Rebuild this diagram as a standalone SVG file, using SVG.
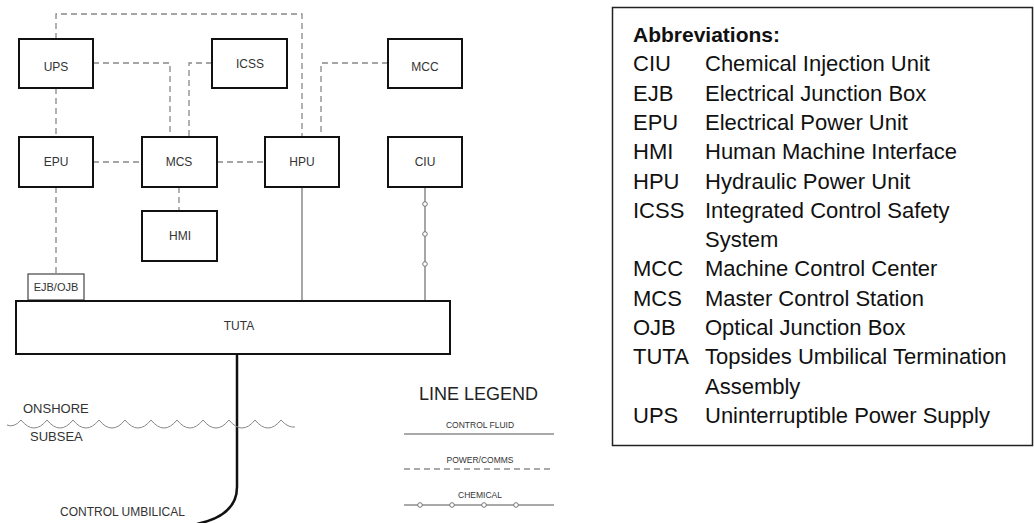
<svg xmlns="http://www.w3.org/2000/svg" width="1034" height="523" viewBox="0 0 1034 523">
<style>
.box{fill:#fff;stroke:#111;stroke-width:2}
.sbox{fill:#fff;stroke:#444;stroke-width:1.2}
.lbl{font-family:"Liberation Sans",Arial,sans-serif;font-size:12px;fill:#333;text-anchor:middle}
.dash{fill:none;stroke:#888;stroke-width:1.3;stroke-dasharray:6 4}
.solid{fill:none;stroke:#777;stroke-width:1.3}
.dot{fill:#fff;stroke:#777;stroke-width:1}
.big{font-family:"Liberation Sans",Arial,sans-serif;font-size:13px;fill:#333}
.leg{font-family:"Liberation Sans",Arial,sans-serif;font-size:8.5px;fill:#333;text-anchor:middle}
.ab{font-family:"Liberation Sans",Arial,sans-serif;font-size:22px;fill:#111}
</style>
<rect width="1034" height="523" fill="#fff"/>
<g id="connectors">
<path class="dash" d="M56,39 V14 H302 V137"/>
<path class="dash" d="M93,63 H170 V137"/>
<path class="dash" d="M212,63 H189 V137"/>
<path class="dash" d="M388,63 H321 V137"/>
<path class="dash" d="M56,88 V137"/>
<path class="dash" d="M93,162 H142"/>
<path class="dash" d="M217,162 H265"/>
<path class="dash" d="M56,187 V274"/>
<path class="dash" d="M179,187 V211"/>
<path class="solid" d="M302,187 V301"/>
<path class="solid" d="M425,187 V301"/>
<circle class="dot" cx="425" cy="204" r="2.3"/>
<circle class="dot" cx="425" cy="234" r="2.3"/>
<circle class="dot" cx="425" cy="264" r="2.3"/>
<path d="M237,354 V487 C237,505 225,518 197,524" fill="none" stroke="#111" stroke-width="2.5"/>
</g>
<g id="UPS"><rect class="box" x="19" y="39" width="74" height="49"/><text class="lbl" x="56" y="71">UPS</text></g>
<g id="ICSS"><rect class="box" x="212" y="39" width="75" height="49"/><text class="lbl" x="250" y="68">ICSS</text></g>
<g id="MCC"><rect class="box" x="388" y="39" width="74" height="49"/><text class="lbl" x="425" y="71">MCC</text></g>
<g id="EPU"><rect class="box" x="19" y="137" width="74" height="50"/><text class="lbl" x="56" y="166">EPU</text></g>
<g id="MCS"><rect class="box" x="142" y="137" width="75" height="50"/><text class="lbl" x="179" y="166">MCS</text></g>
<g id="HPU"><rect class="box" x="265" y="137" width="74" height="50"/><text class="lbl" x="302" y="166">HPU</text></g>
<g id="CIU"><rect class="box" x="388" y="137" width="74" height="50"/><text class="lbl" x="425" y="166">CIU</text></g>
<g id="HMI"><rect class="box" x="142" y="211" width="75" height="50"/><text class="lbl" x="180" y="240">HMI</text></g>
<g id="EJB_OJB"><rect class="sbox" x="28" y="274" width="56" height="26"/><text class="lbl" x="56" y="291" style="font-size:11px">EJB/OJB</text></g>
<g id="TUTA"><rect class="box" x="16" y="301" width="434" height="53"/><text class="lbl" x="239" y="330">TUTA</text></g>
<g id="waterline">
<path d="M7,425 Q14,428 21,420 Q34,436 47,420 Q60,436 73,420 Q86,436 99,420 Q112,436 125,420 Q138,436 151,420 Q164,436 177,420 Q190,436 203,420 Q216,436 229,420 Q242,436 255,420 Q268,436 281,420 Q288,428 295,427" fill="none" stroke="#888" stroke-width="1"/>
<text class="big" x="23" y="413">ONSHORE</text>
<text class="big" x="30" y="441">SUBSEA</text>
<text class="big" x="60" y="516" style="font-size:12px">CONTROL UMBILICAL</text>
</g>
<g id="legend">
<text x="419" y="400" style="font-family:'Liberation Sans',Arial,sans-serif;font-size:18px;fill:#222">LINE LEGEND</text>
<text class="leg" x="480" y="428">CONTROL FLUID</text>
<line x1="404" y1="434" x2="554" y2="434" stroke="#555" stroke-width="1"/>
<text class="leg" x="480" y="463">POWER/COMMS</text>
<line x1="404" y1="469" x2="554" y2="469" stroke="#555" stroke-width="1" stroke-dasharray="6 4"/>
<text class="leg" x="480" y="498">CHEMICAL</text>
<line x1="404" y1="505" x2="554" y2="505" stroke="#555" stroke-width="1"/>
<circle class="dot" cx="420" cy="505" r="2.3"/>
<circle class="dot" cx="452" cy="505" r="2.3"/>
<circle class="dot" cx="484" cy="505" r="2.3"/>
<circle class="dot" cx="516" cy="505" r="2.3"/>
</g>
<g id="abbreviations">
<rect x="612.5" y="7.5" width="420" height="438" fill="#fff" stroke="#222" stroke-width="1.5"/>
<text class="ab" x="633" y="42" style="font-weight:bold;font-size:21px">Abbreviations:</text>
<text class="ab" x="633" y="71.3">CIU</text><text class="ab" x="705" y="71.3">Chemical Injection Unit</text>
<text class="ab" x="633" y="100.6">EJB</text><text class="ab" x="705" y="100.6">Electrical Junction Box</text>
<text class="ab" x="633" y="129.9">EPU</text><text class="ab" x="705" y="129.9">Electrical Power Unit</text>
<text class="ab" x="633" y="159.2">HMI</text><text class="ab" x="705" y="159.2">Human Machine Interface</text>
<text class="ab" x="633" y="188.5">HPU</text><text class="ab" x="705" y="188.5">Hydraulic Power Unit</text>
<text class="ab" x="633" y="217.8">ICSS</text><text class="ab" x="705" y="217.8">Integrated Control Safety</text>
<text class="ab" x="705" y="247.1">System</text>
<text class="ab" x="633" y="276.4">MCC</text><text class="ab" x="705" y="276.4">Machine Control Center</text>
<text class="ab" x="633" y="305.7">MCS</text><text class="ab" x="705" y="305.7">Master Control Station</text>
<text class="ab" x="633" y="335">OJB</text><text class="ab" x="705" y="335">Optical Junction Box</text>
<text class="ab" x="633" y="364.3">TUTA</text><text class="ab" x="705" y="364.3">Topsides Umbilical Termination</text>
<text class="ab" x="705" y="393.6">Assembly</text>
<text class="ab" x="633" y="422.9">UPS</text><text class="ab" x="705" y="422.9">Uninterruptible Power Supply</text>
</g>
</svg>
